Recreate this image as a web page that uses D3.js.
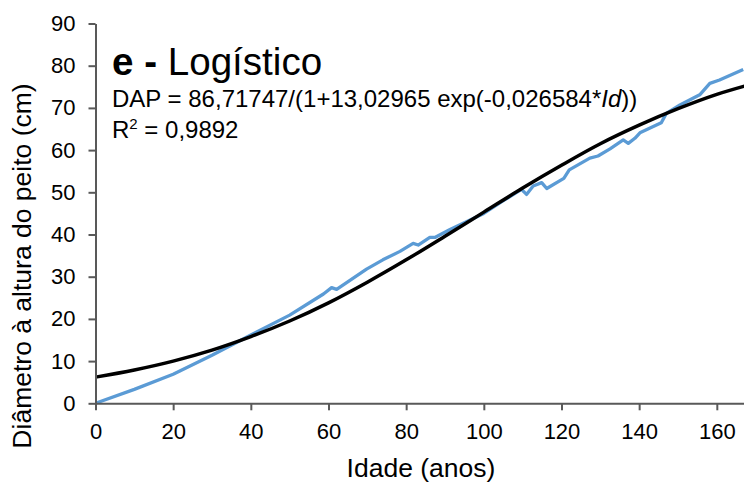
<!DOCTYPE html>
<html>
<head>
<meta charset="utf-8">
<script src="https://cdn.jsdelivr.net/npm/d3@7"></script>
<style>
  body { margin: 0; background: #fff; }
  svg { display: block; font-family: "Liberation Sans", Arial, sans-serif; }
</style>
</head>
<body>
<svg id="chart" width="744" height="485"></svg>
<script>
const obsAge = [0, 10, 20, 30, 40, 50, 58.7, 60.8, 62.1, 69.8, 74, 78.4, 81.8, 83.1, 86.1, 87.4, 91.3, 100, 105,
  109.7, 111.0, 112.7, 114.9, 116.2, 120.6, 122.0, 127.3, 129.4, 132.5, 135.9, 137.2, 138.9, 140.2,
  145.7, 147.0, 150.5, 155.6, 158.2, 160.7, 166.8];
const obsDap = [0, 3.3, 6.9, 11.4, 16.2, 20.9, 25.9, 27.4, 27.0, 31.8, 34.0, 36.0, 37.9, 37.5, 39.3, 39.3, 41.2, 45.0, 48.0,
  50.7, 49.5, 51.5, 52.3, 50.9, 53.3, 55.3, 58.1, 58.6, 60.3, 62.4, 61.6, 62.8, 64.1,
  66.5, 68.7, 70.7, 73.1, 75.8, 76.6, 79.1];
// Fitted logistic curve (black)
const fitAge = [0, 10, 20, 30, 40, 50, 60, 70, 80, 90, 100, 110, 120, 130, 140, 150, 160, 170];
const fitDap = [6.2, 7.9, 10.0, 12.6, 15.8, 19.5, 23.8, 28.7, 34.0, 39.6, 45.3, 51.0, 56.4, 61.5, 65.9, 69.8, 73.2, 75.9];
// Axis ticks
const xTicks = [0, 20, 40, 60, 80, 100, 120, 140, 160];
const yTicks = [0, 10, 20, 30, 40, 50, 60, 70, 80, 90];

const svg = d3.select('#chart');
const axisColor = '#595959';

const x = d3.scaleLinear().domain([0, 167]).range([95.5, 744]);
const y = d3.scaleLinear().domain([0, 90]).range([403.3, 23.5]);

// clip so the curves stop at the right border
svg.append('clipPath').attr('id', 'plotClip')
  .append('rect').attr('x', 95).attr('y', 0).attr('width', 649).attr('height', 410);

const line = d3.line()
  .x(d => x(d[0]))
  .y(d => y(d[1]));

const plot = svg.append('g').attr('clip-path', 'url(#plotClip)');

plot.append('path')
  .datum(d3.zip(obsAge, obsDap))
  .attr('fill', 'none')
  .attr('stroke', '#5B9BD5')
  .attr('stroke-width', 3.3)
  .attr('stroke-linejoin', 'round')
  .attr('d', line);

plot.append('path')
  .datum(d3.zip(fitAge, fitDap))
  .attr('fill', 'none')
  .attr('stroke', '#000')
  .attr('stroke-width', 3.5)
  .attr('d', line.curve(d3.curveMonotoneX));

// axes
const xAxis = svg.append('g')
  .attr('transform', `translate(0,${y(0)})`)
  .call(d3.axisBottom(x).tickValues(xTicks).tickSize(7).tickPadding(13).tickSizeOuter(0));
const yAxis = svg.append('g')
  .attr('transform', `translate(${x(0)},0)`)
  .call(d3.axisLeft(y).tickValues(yTicks).tickSize(7).tickPadding(13).tickSizeOuter(0));

[xAxis, yAxis].forEach(g => {
  g.select('.domain').attr('stroke', axisColor).attr('stroke-width', 2);
  g.selectAll('.tick line').attr('stroke', axisColor).attr('stroke-width', 2);
  g.selectAll('.tick text')
    .attr('fill', '#000')
    .style('font-size', '22px')
    .style('font-family', '"Liberation Sans", Arial, sans-serif');
});

// axis titles
svg.append('text')
  .attr('x', 421)
  .attr('y', 477)
  .attr('text-anchor', 'middle')
  .style('font-size', '26.5px')
  .text('Idade (anos)');

svg.append('text')
  .attr('transform', 'translate(31,266) rotate(-90)')
  .attr('text-anchor', 'middle')
  .style('font-size', '26.5px')
  .text('Diâmetro à altura do peito (cm)');

// annotation
const title = svg.append('text').attr('x', 112).attr('y', 75).style('font-size', '38.6px');
title.append('tspan').style('font-weight', 'bold').text('e - ');
title.append('tspan').text('Logístico');

const eq = svg.append('text').attr('x', 112).attr('y', 107).style('font-size', '24px');
eq.append('tspan').text('DAP = 86,71747/(1+13,02965 exp(-0,026584*');
eq.append('tspan').style('font-style', 'italic').text('Id');
eq.append('tspan').text('))');

const r2 = svg.append('text').attr('x', 112).attr('y', 138).style('font-size', '24px');
r2.append('tspan').text('R');
r2.append('tspan').attr('dy', -9).style('font-size', '15px').text('2');
r2.append('tspan').attr('dy', 9).text(' = 0,9892');
</script>
</body>
</html>
